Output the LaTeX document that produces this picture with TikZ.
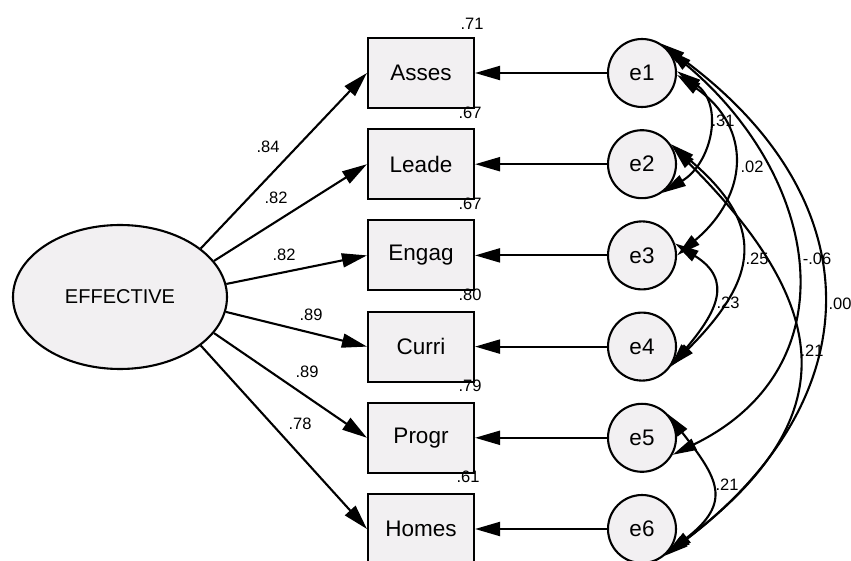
\documentclass[tikz,border=0pt]{standalone}
\usepackage{fontspec}
\setmainfont{Liberation Sans}
\usetikzlibrary{arrows.meta,shapes.geometric}
\definecolor{boxfill}{RGB}{242,240,242}

\begin{document}
\begin{tikzpicture}[x=1pt,y=1pt,
  every node/.style={inner sep=0pt},
  obs/.style={draw, line width=2.1pt, fill=boxfill, minimum width=106pt, minimum height=70pt,
    font=\fontsize{22.5}{24}\selectfont},
  err/.style={draw, circle, line width=2.1pt, fill=boxfill, minimum size=68pt,
    font=\fontsize{22.5}{24}\selectfont},
  lat/.style={draw, ellipse, line width=2.1pt, fill=boxfill, minimum width=214pt, minimum height=144pt,
    font=\fontsize{20}{22}\selectfont},
  coef/.style={font=\fontsize{16.5}{18}\selectfont},
  load/.style={line width=2.1pt, -{Triangle[length=25pt,width=14pt]}},
  cov/.style={line width=2.1pt, {Triangle[length=24pt,width=12pt]}-{Triangle[length=24pt,width=12pt]}},
]
\useasboundingbox (0,0) rectangle (851,560);

% latent factor
\node[lat] (eff) at (120,263) {EFFECTIVE};

% observed indicators
\node[obs] (asses) at (421,487)   {Asses};
\node[obs] (leade) at (421,395.8) {Leade};
\node[obs] (engag) at (421,304.6) {Engag};
\node[obs] (curri) at (421,213.4) {Curri};
\node[obs] (progr) at (421,122.2) {Progr};
\node[obs] (homes) at (421,31)    {Homes};

% error terms
\node[err] (e1) at (642,487)   {e1};
\node[err] (e2) at (642,395.8) {e2};
\node[err] (e3) at (642,304.6) {e3};
\node[err] (e4) at (642,213.4) {e4};
\node[err] (e5) at (642,122.2) {e5};
\node[err] (e6) at (642,31)    {e6};

% factor loadings
\draw[load] (eff.31)  -- (asses.west);
\draw[load] (eff.21)  -- (leade.west);
\draw[load] (eff.7)   -- (engag.west);
\draw[load] (eff.352) -- (curri.west);
\draw[load] (eff.339) -- (progr.west);
\draw[load] (eff.329) -- (homes.west);

% error paths
\draw[load] (e1.west) -- (asses.east);
\draw[load] (e2.west) -- (leade.east);
\draw[load] (e3.west) -- (engag.east);
\draw[load] (e4.west) -- (curri.east);
\draw[load] (e5.west) -- (progr.east);
\draw[load] (e6.west) -- (homes.east);

% error covariances
\draw[cov] (e1.3)   to[out=-35,in=31,distance=58pt]  (e2.305);
\draw[cov] (e1.357) to[out=-35,in=40,distance=93pt]  (e3.0);
\draw[cov] (e3.20)  to[out=-32,in=50,distance=70pt]  (e4.325);
\draw[cov] (e2.35)  to[out=-40,in=45,distance=125pt] (e4.327);
\draw[cov] (e2.30)  to[out=-45,in=37,distance=226pt] (e6.315);
\draw[cov] (e1.42)  to[out=-40,in=26,distance=200pt] (e5.331);
\draw[cov] (e1.57)  to[out=-36,in=37,distance=263pt] (e6.310);
\draw[cov] (e5.43)  to[out=-52,in=38,distance=82pt]  (e6.318);

% loading estimates
\node[coef] (l1) at (268,413) {.84};
\node[coef] (l2) at (276,362) {.82};
\node[coef] (l3) at (284,305) {.82};
\node[coef] (l4) at (311,245) {.89};
\node[coef] (l5) at (307,188) {.89};
\node[coef] (l6) at (300,136) {.78};

% squared multiple correlations
\node[coef] (r1) at (472,536) {.71};
\node[coef] (r2) at (470,447) {.67};
\node[coef] (r3) at (470,356) {.67};
\node[coef] (r4) at (470,265) {.80};
\node[coef] (r5) at (470,174) {.79};
\node[coef] (r6) at (468,83)  {.61};

% covariance estimates
\node[coef] (c12) at (723,439) {.31};
\node[coef] (c13) at (752,393) {.02};
\node[coef] (c24) at (757,301) {.25};
\node[coef] (c15) at (817,301) {-.06};
\node[coef] (c16) at (840,256) {.00};
\node[coef] (c34) at (728,257) {.23};
\node[coef] (c26) at (812,209) {.21};
\node[coef] (c56) at (727,75)  {.21};
\end{tikzpicture}
\end{document}
